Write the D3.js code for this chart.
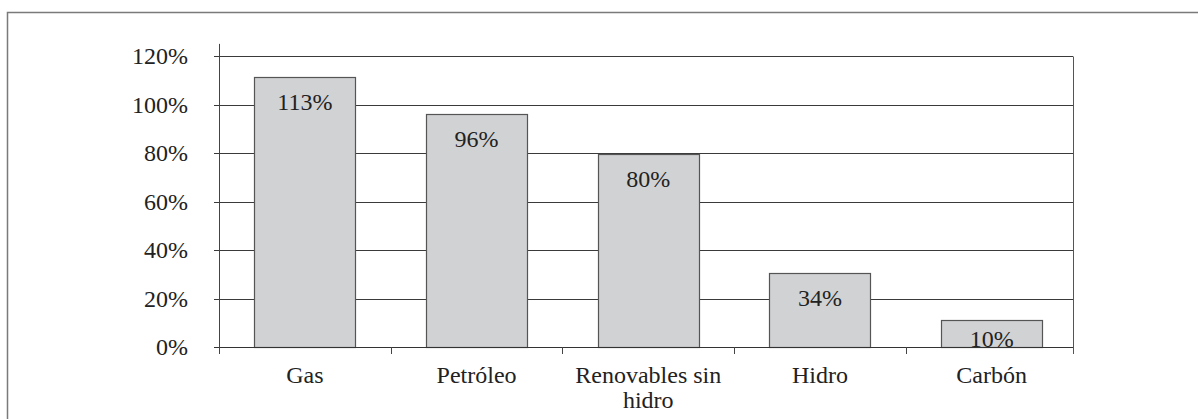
<!DOCTYPE html>
<html>
<head>
<meta charset="utf-8">
<script src="https://cdn.jsdelivr.net/npm/d3@7"></script>
<style>
  html, body { margin: 0; padding: 0; background: #fff; }
  svg { display: block; }
  text { font-family: "Liberation Serif", "Times New Roman", serif; fill: #222; }
</style>
</head>
<body>
<svg id="chart" width="1198" height="419"></svg>
<script>
// ---- data ----
const categories = ["Gas", "Petróleo", "Renovables sin hidro", "Hidro", "Carbón"];
const values = [111.5, 96.2, 79.7, 30.6, 11.0];          // bar heights as drawn (%)
const valueLabels = ["113%", "96%", "80%", "34%", "10%"]; // printed labels
const yTicks = [0, 20, 40, 60, 80, 100, 120];

// ---- layout ----
const W = 1198, H = 419;
const left = 219, plotRight = 1073, bandRight = 1077.5, y0 = 347, yTopTick = 56;
const svg = d3.select("#chart");

// outer frame
svg.append("rect")
  .attr("x", 7.5).attr("y", 12.5)
  .attr("width", W + 20).attr("height", H + 20)
  .attr("fill", "none").attr("stroke", "#7a7a7a").attr("stroke-width", 1.5);

const y = d3.scaleLinear().domain([0, 120]).range([y0, yTopTick]);
const yMaxAxis = 125;

const x = d3.scaleBand().domain(categories).range([left, bandRight])
  .paddingInner(0.41).paddingOuter(0.205);
const step = x.step();

// gridlines
svg.append("g").selectAll("line").data(yTicks.filter(d => d > 0)).join("line")
  .attr("x1", left - 5).attr("x2", plotRight)
  .attr("y1", d => Math.round(y(d)) + 0.5).attr("y2", d => Math.round(y(d)) + 0.5)
  .attr("stroke", "#3a3a3a").attr("stroke-width", 1);

// right plot edge
svg.append("line")
  .attr("x1", plotRight + 0.5).attr("x2", plotRight + 0.5)
  .attr("y1", Math.round(y(120)) + 0.5).attr("y2", y0 + 7)
  .attr("stroke", "#555").attr("stroke-width", 1);

// bars
svg.append("g").selectAll("rect").data(categories).join("rect")
  .attr("x", d => Math.round(x(d)) + 0.5)
  .attr("y", (d, i) => Math.round(y(values[i])) + 0.5)
  .attr("width", Math.round(x.bandwidth()))
  .attr("height", (d, i) => y0 - Math.round(y(values[i])))
  .attr("fill", "#d1d2d4").attr("stroke", "#555").attr("stroke-width", 1.2);

// value labels
svg.append("g").selectAll("text").data(categories).join("text")
  .attr("x", d => x(d) + x.bandwidth() / 2)
  .attr("y", (d, i) => Math.min(y(values[i]) + 33, y0))
  .attr("text-anchor", "middle")
  .attr("font-size", 24)
  .text((d, i) => valueLabels[i]);

// x axis baseline
svg.append("line")
  .attr("x1", left - 5).attr("x2", plotRight)
  .attr("y1", y0 + 0.5).attr("y2", y0 + 0.5)
  .attr("stroke", "#333").attr("stroke-width", 1);

// x ticks at band boundaries
svg.append("g").selectAll("line").data(d3.range(categories.length)).join("line")
  .attr("x1", i => Math.round(left + i * step) + 0.5)
  .attr("x2", i => Math.round(left + i * step) + 0.5)
  .attr("y1", y0).attr("y2", y0 + 7)
  .attr("stroke", "#444").attr("stroke-width", 1);

// y axis line
svg.append("line")
  .attr("x1", left + 0.5).attr("x2", left + 0.5)
  .attr("y1", y(yMaxAxis)).attr("y2", y0 + 7)
  .attr("stroke", "#444").attr("stroke-width", 1);

// y tick labels
svg.append("g").selectAll("text").data(yTicks).join("text")
  .attr("x", 188)
  .attr("y", d => y(d))
  .attr("dy", "0.35em")
  .attr("text-anchor", "end")
  .attr("font-size", 24)
  .text(d => d + "%");

// category labels with wrapping
const catG = svg.append("g");
categories.forEach(c => {
  const cx = x(c) + x.bandwidth() / 2;
  const t = catG.append("text")
    .attr("x", cx)
    .attr("y", 383)
    .attr("text-anchor", "middle")
    .attr("font-size", 24);
  const words = c.split(" ");
  let line = [];
  let tspan = t.append("tspan").attr("x", cx).attr("dy", 0);
  words.forEach(w => {
    line.push(w);
    tspan.text(line.join(" "));
    if (tspan.node().getComputedTextLength() > step - 10 && line.length > 1) {
      line.pop();
      tspan.text(line.join(" "));
      line = [w];
      tspan = t.append("tspan").attr("x", cx).attr("dy", 25).text(w);
    }
  });
});
</script>
</body>
</html>
